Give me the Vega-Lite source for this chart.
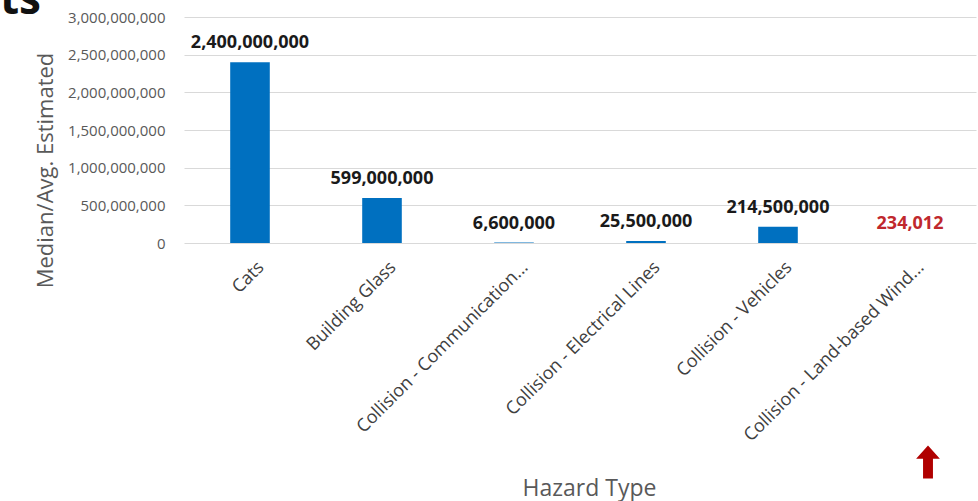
{
  "$schema": "https://vega.github.io/schema/vega-lite/v6.json",
  "width": 792,
  "height": 226,
  "autosize": "none",
  "padding": {"left": 184, "top": 17, "right": 2, "bottom": 258},
  "background": "white",
  "title": {
    "text": "ts",
    "anchor": "start",
    "frame": "group",
    "orient": "top",
    "fontSize": 44,
    "font": "Open Sans",
    "fontWeight": "bold",
    "color": "#111111",
    "dx": -184,
    "offset": -13
  },
  "config": {
    "view": {"stroke": null},
    "font": "Open Sans"
  },
  "data": {
    "values": [
      {"hazard": "Cats", "value": 2400000000},
      {"hazard": "Building Glass", "value": 599000000},
      {"hazard": "Collision - Communication...", "value": 6600000},
      {"hazard": "Collision - Electrical Lines", "value": 25500000},
      {"hazard": "Collision - Vehicles", "value": 214500000},
      {"hazard": "Collision - Land-based Wind...", "value": 234012}
    ]
  },
  "encoding": {
    "x": {
      "field": "hazard",
      "type": "nominal",
      "sort": null,
      "scale": {"paddingInner": 0.7, "paddingOuter": 0.35},
      "axis": {
        "title": "Hazard Type",
        "titleFontSize": 23,
        "titleFontWeight": "normal",
        "titleColor": "#595959",
        "titleX": 405,
        "titleY": 245,
        "titleBaseline": "middle",
        "labelAngle": -45,
        "labelFontSize": 18,
        "labelColor": "#404040",
        "labelPadding": 15,
        "labelOffset": 5,
        "labelLimit": 400,
        "domain": false,
        "ticks": false
      }
    },
    "y": {
      "field": "value",
      "type": "quantitative",
      "scale": {"domain": [0, 3000000000], "nice": false},
      "axis": {
        "title": "Median/Avg. Estimated",
        "titleFontSize": 22,
        "titleFontWeight": "normal",
        "titleColor": "#595959",
        "titleX": -139,
        "titleY": 153,
        "titleAngle": -90,
        "titleAlign": "center",
        "titleBaseline": "middle",
        "values": [0, 500000000, 1000000000, 1500000000, 2000000000, 2500000000, 3000000000],
        "format": ",.0f",
        "labelFontSize": 15,
        "labelColor": "#595959",
        "labelPadding": 19,
        "domain": false,
        "ticks": false,
        "gridColor": "#d9d9d9",
        "gridWidth": 1
      }
    }
  },
  "layer": [
    {
      "mark": {"type": "bar", "color": "#0070c0"}
    },
    {
      "mark": {
        "type": "text",
        "fontSize": 18,
        "fontWeight": "bold",
        "baseline": "alphabetic",
        "dy": -14
      },
      "encoding": {
        "text": {"field": "value", "type": "quantitative", "format": ",.0f"},
        "color": {
          "condition": {"test": "datum.value < 1000000", "value": "#c0282d"},
          "value": "#1a1a1a"
        }
      }
    },
    {
      "mark": {
        "type": "point",
        "shape": "M0,-1 L0.72,-0.2 L0.3,-0.2 L0.3,1 L-0.3,1 L-0.3,-0.2 L-0.72,-0.2 Z",
        "size": 1089,
        "filled": true,
        "opacity": 1,
        "color": "#b00000",
        "xOffset": 18
      },
      "transform": [{"filter": "datum.value < 1000000"}],
      "encoding": {
        "y": {"datum": -2907000000}
      }
    }
  ]
}
